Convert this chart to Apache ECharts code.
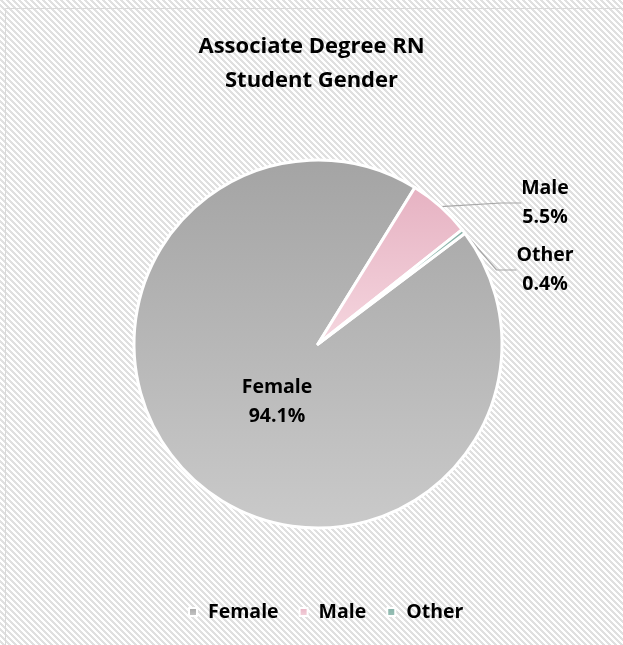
<!DOCTYPE html>
<html>
<head>
<meta charset="utf-8">
<script src="https://cdn.jsdelivr.net/npm/echarts@6/dist/echarts.min.js"></script>
<style>
    html, body {margin: 0; padding: 0; background: #fff;}
    #chart {width: 623px; height: 645px;}
</style>
</head>
<body>
<div id="chart"></div>
<script>
const categories = ['Female', 'Male', 'Other'];
const shares = [94.1, 5.5, 0.4];
const titleLines = ['Associate Degree RN', 'Student Gender'];

const fills = [
    ['#a4a4a4', '#cacaca'],
    ['#e6b2c2', '#f5d6df'],
    ['#86b1a7', '#9cc2b9'],
];
// label anchor spots, in pixels
const labelSpots = [[277, 402], [545, 203], [545, 270]];
const fontStack = '"Open Sans", "Noto Sans", sans-serif';

function makeHatch() {
    const p = 6;
    const c = document.createElement('canvas');
    c.width = p;
    c.height = p;
    const ctx = c.getContext('2d');
    ctx.fillStyle = '#ffffff';
    ctx.fillRect(0, 0, p, p);
    ctx.fillStyle = '#e0e0e0';
    for (let y = 0; y < p; y++) {
        for (let x = 0; x < p; x++) {
            if (((x - y) % p + p) % p < 3) ctx.fillRect(x, y, 1, 1);
        }
    }
    return c;
}

const chart = echarts.init(document.getElementById('chart'), null, {renderer: 'canvas'});

const pieData = categories.map((name, i) => ({
    name: name,
    value: shares[i],
    itemStyle: {
        color: {
            type: 'linear', x: 0, y: 0, x2: 0, y2: 1,
            colorStops: [{offset: 0, color: fills[i][0]}, {offset: 1, color: fills[i][1]}],
        },
    },
    labelLine: {show: i > 0},
}));

chart.setOption({
    backgroundColor: {image: makeHatch(), repeat: 'repeat'},
    animation: false,
    title: {
        text: titleLines.join('\n'),
        left: 'center',
        top: 25,
        textStyle: {fontFamily: fontStack, fontWeight: 'bold', fontSize: 22, lineHeight: 34, color: '#000'},
    },
    legend: {
        data: categories,
        top: 597,
        left: 183,
        icon: 'rect',
        itemWidth: 8,
        itemHeight: 8,
        itemGap: 20,
        textStyle: {fontFamily: fontStack, fontWeight: 'bold', fontSize: 19.5, color: '#000', padding: [0, 0, 0, 6]},
    },
    graphic: [{
        type: 'rect',
        shape: {x: 5.5, y: 8.5, width: 700, height: 700},
        style: {fill: 'none', stroke: '#d9d9d9', lineWidth: 1},
        silent: true,
    }],
    series: [{
        type: 'pie',
        center: [318, 344],
        radius: 184,
        startAngle: 37,
        clockwise: true,
        data: pieData,
        itemStyle: {borderColor: '#fff', borderWidth: 3},
        label: {
            show: true,
            formatter: p => p.name + '\n' + p.value.toFixed(1) + '%',
            fontFamily: fontStack,
            fontWeight: 'bold',
            fontSize: 19.5,
            lineHeight: 29,
            color: '#000',
        },
        labelLine: {lineStyle: {color: '#a6a6a6', width: 1.2}, length: 15, length2: 20},
        labelLayout: function(params) {
            const spot = labelSpots[params.dataIndex];
            return {x: spot[0], y: spot[1], align: 'center', verticalAlign: 'middle'};
        },
        emphasis: {disabled: true},
    }],
});
</script>
</body>
</html>
